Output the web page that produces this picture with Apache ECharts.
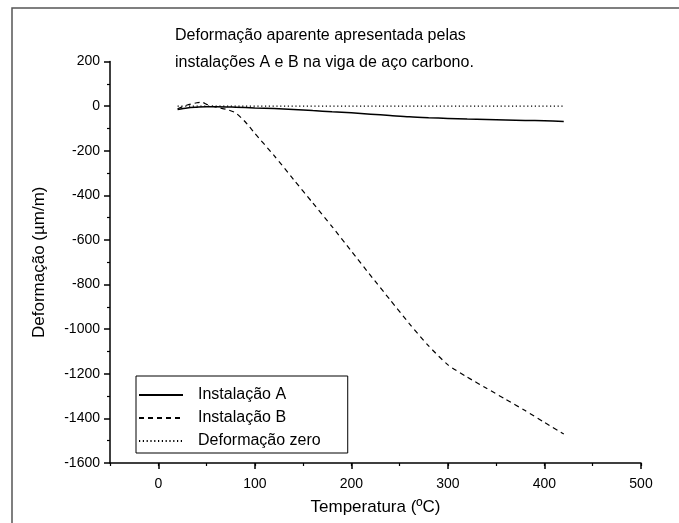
<!DOCTYPE html>
<html>
<head>
<meta charset="utf-8">
<script src="https://cdn.jsdelivr.net/npm/echarts@6/dist/echarts.min.js"></script>
<style>
  html, body { margin: 0; padding: 0; background: #fff; }
  #chart { width: 679px; height: 523px; }
</style>
</head>
<body>
<div id="chart"></div>
<script>
// Instalação A (linha cheia)
const tempA = [20, 30, 40, 50, 60, 80, 100, 120, 140, 160, 180, 200, 220, 240, 260, 280, 300, 320, 340, 360, 380, 400, 420]
const defA = [-15, -8, -5, -3, -3, -5, -8, -11, -15, -20, -25, -30, -36, -42, -48, -52, -55, -58, -60, -62, -64, -66, -69]

// Instalação B (tracejada)
const tempB = [20, 30, 40, 45, 50, 60, 70, 80, 90, 100, 120, 140, 160, 180, 200, 220, 240, 260, 280, 300, 320, 340, 360, 380, 400, 420]
const defB = [-12, 5, 15, 18, 8, -5, -14, -30, -70, -122, -222, -328, -434, -540, -650, -760, -868, -975, -1075, -1160, -1215, -1265, -1315, -1365, -1418, -1470]

// Deformação zero (pontilhada)
const tempZero = [20, 420]
const defZero = [0, 0]

// marcas principais do eixo x (rotuladas)
const xMajor = [0, 100, 200, 300, 400, 500]

const names = ['Instalação A', 'Instalação B', 'Deformação zero']
const font = 'Liberation Sans, Arial, sans-serif'

const pairs = (xs, ys) => xs.map((x, i) => [x, ys[i]])

const myChart = echarts.init(document.getElementById('chart'))

const baseX = {
  type: 'value',
  min: -50,
  max: 500,
  interval: 50,
  splitLine: { show: false }
}

const option = {
  animation: false,
  textStyle: { fontFamily: font },
  title: {
    text: 'Deformação aparente apresentada pelas\ninstalações A e B na viga de aço carbono.',
    left: 175,
    top: 22,
    padding: 0,
    textStyle: { fontSize: 16, fontWeight: 'normal', color: '#000', lineHeight: 27, fontFamily: font }
  },
  graphic: [
    {
      type: 'rect',
      shape: { x: 12, y: 8, width: 720, height: 600 },
      style: { fill: 'none', stroke: '#555', lineWidth: 1.5 },
      silent: true
    }
  ],
  legend: {
    orient: 'vertical',
    left: 136,
    top: 376,
    padding: [11, 27, 4, 2],
    itemWidth: 44,
    itemHeight: 16,
    itemGap: 7,
    borderColor: '#000',
    borderWidth: 1,
    itemStyle: { opacity: 0 },
    textStyle: { fontSize: 16, color: '#000', padding: [0, 0, 0, 10], fontFamily: font },
    data: names
  },
  grid: {
    left: 110,
    right: 38,
    top: 61.5,
    bottom: 60
  },
  xAxis: [
    Object.assign({}, baseX, {
      name: 'Temperatura (ºC)',
      nameLocation: 'middle',
      nameGap: 36,
      nameTextStyle: { fontSize: 17, color: '#000', fontFamily: font },
      axisLine: { onZero: false, lineStyle: { color: '#000', width: 1.5 } },
      axisTick: { show: true, inside: false, length: 6, customValues: xMajor, lineStyle: { color: '#000', width: 1.5 } },
      axisLabel: { show: true, margin: 14, fontSize: 14, color: '#000', customValues: xMajor, fontFamily: font }
    }),
    Object.assign({}, baseX, {
      position: 'bottom',
      axisLine: { show: false, onZero: false },
      axisTick: { show: true, inside: false, length: 3, lineStyle: { color: '#000', width: 1.2 } },
      axisLabel: { show: false }
    })
  ],
  yAxis: {
    type: 'value',
    min: -1600,
    max: 200,
    interval: 200,
    name: 'Deformação (µm/m)',
    nameLocation: 'middle',
    nameGap: 62,
    nameTextStyle: { fontSize: 17, color: '#000', fontFamily: font },
    axisLine: { onZero: false, lineStyle: { color: '#000', width: 1.5 } },
    axisTick: { show: true, inside: false, length: 6, lineStyle: { color: '#000', width: 1.5 } },
    minorTick: { show: true, splitNumber: 2, length: 3, lineStyle: { color: '#000', width: 1.2 } },
    axisLabel: { margin: 10, fontSize: 14, color: '#000', fontFamily: font, formatter: v => String(v) },
    splitLine: { show: false }
  },
  series: [
    {
      name: names[0],
      type: 'line',
      symbol: 'none',
      smooth: 0.3,
      lineStyle: { color: '#000', width: 1.5, type: 'solid' },
      itemStyle: { color: '#000' },
      data: pairs(tempA, defA)
    },
    {
      name: names[1],
      type: 'line',
      symbol: 'none',
      smooth: 0.2,
      lineStyle: { color: '#000', width: 1.2, type: [5, 4] },
      itemStyle: { color: '#000' },
      data: pairs(tempB, defB)
    },
    {
      name: names[2],
      type: 'line',
      symbol: 'none',
      lineStyle: { color: '#000', width: 1.2, type: [1.2, 2.6] },
      itemStyle: { color: '#000' },
      data: pairs(tempZero, defZero)
    }
  ]
}

myChart.setOption(option)
</script>
</body>
</html>
